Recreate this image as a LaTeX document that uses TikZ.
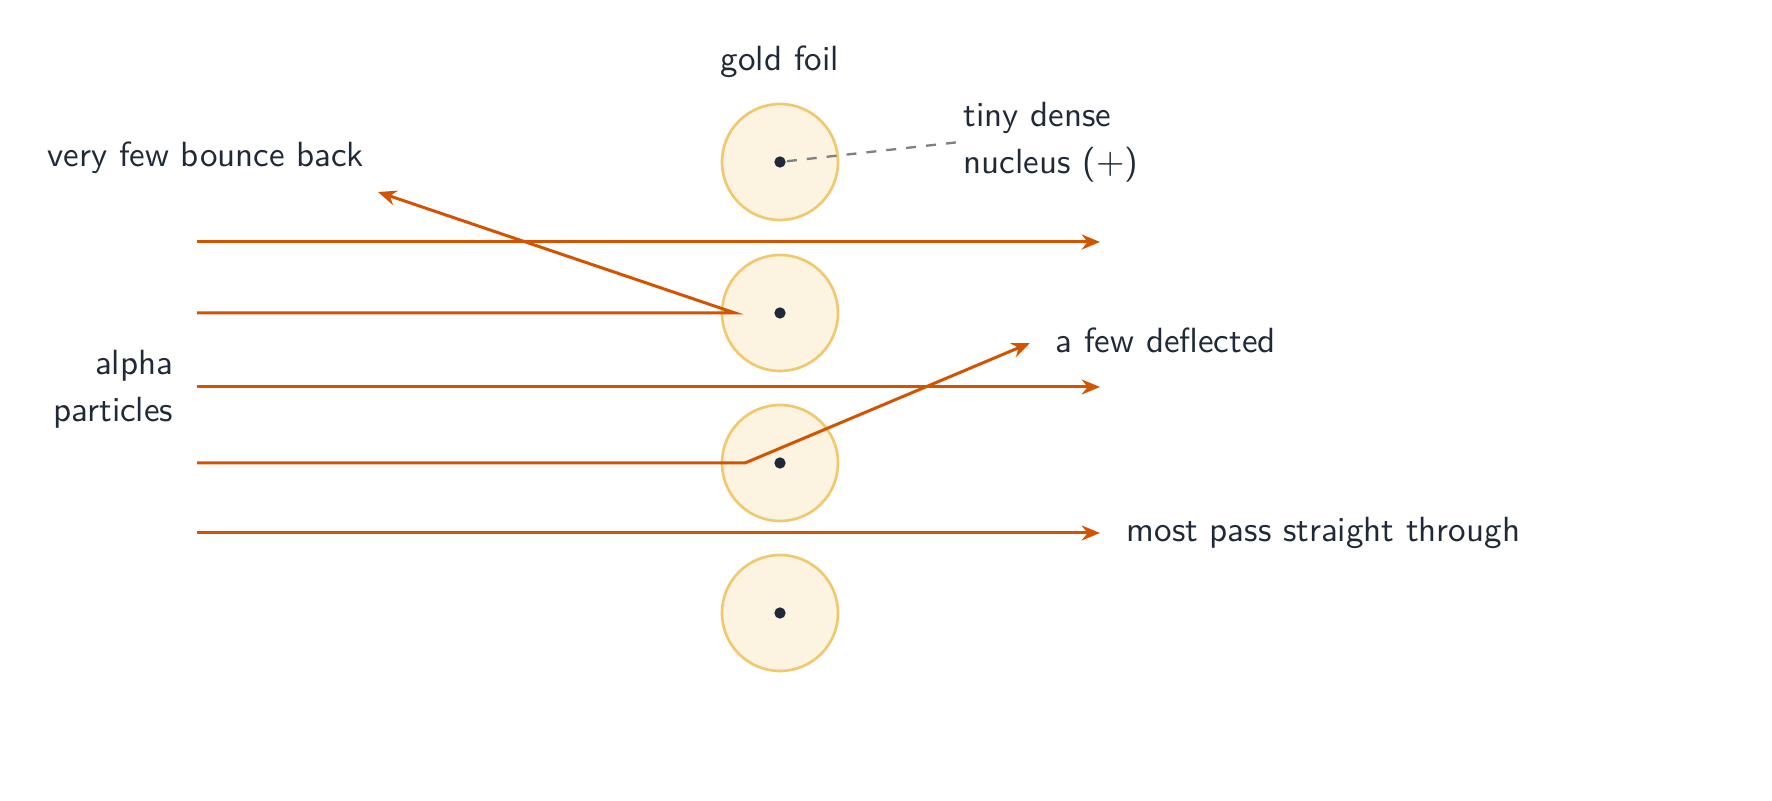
\documentclass[tikz,border=0pt]{standalone}
\usetikzlibrary{arrows.meta}
\definecolor{ray}{HTML}{D35400}
\definecolor{foil}{HTML}{F0C86E}
\definecolor{foilfill}{HTML}{FCF3E0}
\definecolor{ink}{HTML}{1F2937}
\tikzset{every picture/.style={line width=0.75pt}}
\begin{document}
\begin{tikzpicture}[x=0.3pt,y=0.3pt,yscale=-1,xscale=1,
  atom/.style={circle,draw=foil,fill=foilfill,line width=0.8pt,minimum size=34.8pt,inner sep=0pt},
  nuc/.style={circle,fill=ink,minimum size=3.4pt,inner sep=0pt},
  alpha/.style={draw=ray,line width=0.9pt,-{Stealth[length=5.5pt,width=4.5pt]}},
  lbl/.style={font=\sffamily\fontsize{10.5}{14}\selectfont,text=ink,inner sep=0.75pt}]
\useasboundingbox (0,0) rectangle (1772,801);

%Atoms of the foil
\foreach \n/\y in {1/162,2/313,3/463,4/613}{
  \node [atom] (atom\n) at (780,\y) {};
  \node [nuc] (nuc\n) at (780,\y) {};
}

%Start and end points of the rays
\coordinate (s1) at (197,242);  \coordinate (e1) at (1100,242);
\coordinate (s2) at (197,313);  \coordinate (h2) at (735,313);  \coordinate (e2) at (378,192);
\coordinate (s3) at (197,387);  \coordinate (e3) at (1100,387);
\coordinate (s4) at (197,463);  \coordinate (h4) at (745,463);  \coordinate (e4) at (1030,343);
\coordinate (s5) at (197,533);  \coordinate (e5) at (1100,533);

%Rays
\draw [alpha] (s1) -- (e1);
\draw [alpha] (s2) -- (h2) -- (e2);
\draw [alpha] (s3) -- (e3);
\draw [alpha] (s4) -- (h4) -- (e4);
\draw [alpha] (s5) -- (e5);

% Text Node
\node [lbl] (foil) at (780,62) {gold foil};
% Text Node
\node [lbl,anchor=west,align=left] (nucleus) at (960,142) {tiny dense\\nucleus ($+$)};
\draw [gray,dashed,line width=0.7pt] (nuc1) -- (nucleus.west);
% Text Node
\node [lbl,anchor=west] (back) at (44,158) {very few bounce back};
% Text Node
\node [lbl,anchor=east,align=right] (alphas) at (177,389) {alpha\\particles};
% Text Node
\node [lbl,anchor=west] (defl) at (1052,340) {a few deflected};
% Text Node
\node [lbl,anchor=west] (most) at (1123,533) {most pass straight through};
\end{tikzpicture}
\end{document}
